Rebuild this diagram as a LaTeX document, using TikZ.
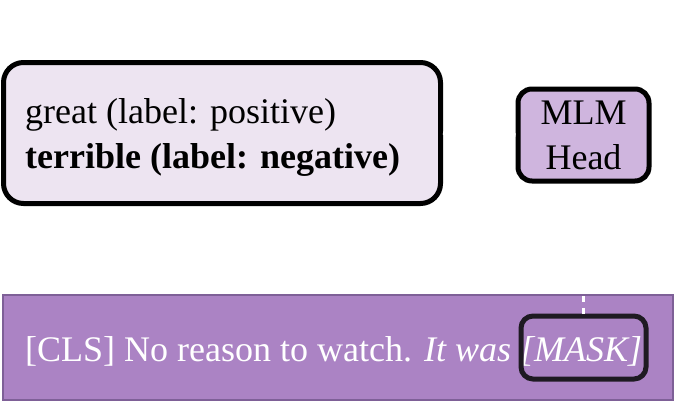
\documentclass[tikz,border=0pt]{standalone}
\usepackage{fontspec}
\setmainfont{Liberation Serif}
\definecolor{labelfill}{HTML}{EDE4F1}
\definecolor{mlmfill}{HTML}{CFB5DE}
\definecolor{inputfill}{HTML}{AB83C4}
\definecolor{inputborder}{HTML}{7E6097}
\definecolor{maskborder}{HTML}{1E1A22}
\tikzset{
  txt/.style={font=\fontsize{36}{45}\selectfont, inner sep=0pt},
  labelbox/.style={draw=black, line width=5pt, fill=labelfill, rounded corners=20pt},
  mlmbox/.style={draw=black, line width=5pt, fill=mlmfill, rounded corners=14pt},
  inputbox/.style={draw=inputborder, line width=2.5pt, fill=inputfill},
  maskbox/.style={draw=maskborder, line width=5pt, rounded corners=12pt},
  conn/.style={draw=white, line width=3.5pt, dash pattern=on 6pt off 5.5pt},
}
\begin{document}
\begin{tikzpicture}[x=1pt,y=-1pt]
\useasboundingbox (0,0) rectangle (675,402);
% label words box
\node[labelbox, minimum width=437pt, minimum height=141pt] (labels) at (222,133) {};
\node[txt, anchor=west, align=left] (labeltext) at (25,137)
  {great (label: positive)\\\textbf{terrible (label: negative)}};
% MLM head
\node[mlmbox, txt, minimum width=131pt, minimum height=92pt, align=center,
  font=\fontsize{36}{45}\selectfont] (mlm) at (583.5,135) {MLM\\Head};
% input sentence
\node[inputbox, minimum width=670pt, minimum height=105pt] (input) at (338,347.5) {};
\node[txt, anchor=west, text=white] (inputtext) at (25,351)
  {[CLS] No reason to watch. \textit{It was [MASK]}};
\node[maskbox, minimum width=125pt, minimum height=63pt] (mask) at (583.5,347.5) {};
% connectors
\draw[conn] (mask.north) -- (mlm.south);
\draw[conn] (mlm.west) -- (labels.east);
\end{tikzpicture}
\end{document}
